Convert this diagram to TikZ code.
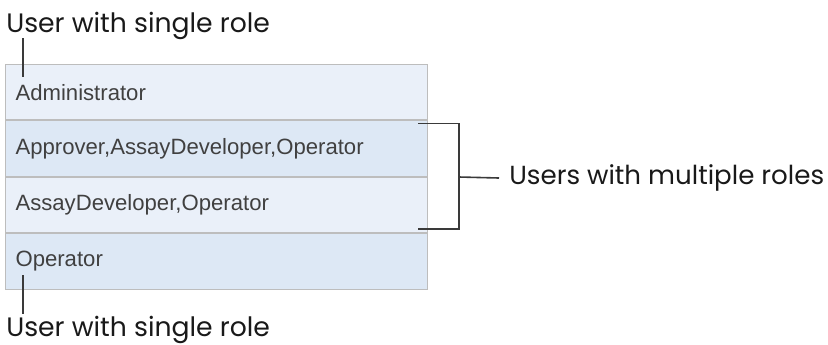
\documentclass[tikz,border=0pt]{standalone}
\usepackage{fontspec}
\setmainfont{Liberation Sans}
\newfontfamily\calloutfont{Poppins}
\definecolor{rowlight}{HTML}{EAF0F9}
\definecolor{rowdark}{HTML}{DDE8F5}
\definecolor{rowline}{HTML}{BDBDBD}
\definecolor{rowtext}{HTML}{404040}
\definecolor{leadline}{HTML}{3A3A3A}
\begin{document}
\begin{tikzpicture}[x=0.75pt, y=-0.75pt,
    rowbox/.style={draw=rowline, line width=0.8pt, anchor=north west,
        minimum width=316.5pt, minimum height=41.5pt, inner xsep=7.5pt,
        text width=301.5pt, align=left, text=rowtext,
        font=\fontsize{16.6}{19}\selectfont},
    callout/.style={inner sep=0pt, text=black!90,
        font=\calloutfont\fontsize{20}{23}\selectfont},
    leader/.style={draw=leadline, line width=1.2pt}]
    \useasboundingbox (0,0) rectangle (828,344);
    % Table rows
    \node[rowbox, fill=rowlight] (admin) at (5,64) {Administrator};
    \node[rowbox, fill=rowdark] (approver) at (admin.south west) {Approver,AssayDeveloper,Operator};
    \node[rowbox, fill=rowlight] (assaydev) at (approver.south west) {AssayDeveloper,Operator};
    \node[rowbox, fill=rowdark] (operator) at (assaydev.south west) {Operator};
    % Callout labels
    \node[callout, anchor=base west] (singletop) at (6,32) {User with single role};
    \node[callout, anchor=base west] (singlebot) at (6,336) {User with single role};
    \node[callout, anchor=west, font=\calloutfont\fontsize{19.6}{23}\selectfont] (multi) at (509,178) {Users with multiple roles};
    % Leader lines of single roles
    \coordinate (topstart) at (23,38);
    \coordinate (toptip) at (23,77);
    \coordinate (bottip) at (23,275);
    \coordinate (botend) at (23,314);
    \draw[leader] (topstart) -- (toptip);
    \draw[leader] (bottip) -- (botend);
    % Bracket of multiple roles
    \coordinate (brtop) at ([xshift=-7.5pt, yshift=-2.25pt]approver.north east);
    \coordinate (brbot) at ([xshift=-7.5pt, yshift=3pt]assaydev.south east);
    \coordinate (brmid) at (459,177);
    \draw[leader] (brtop) -- (brtop -| brmid) -- (brbot -| brmid) -- (brbot);
    \draw[leader] (brmid) -- ([xshift=-7.5pt]multi.west);
\end{tikzpicture}
\end{document}
